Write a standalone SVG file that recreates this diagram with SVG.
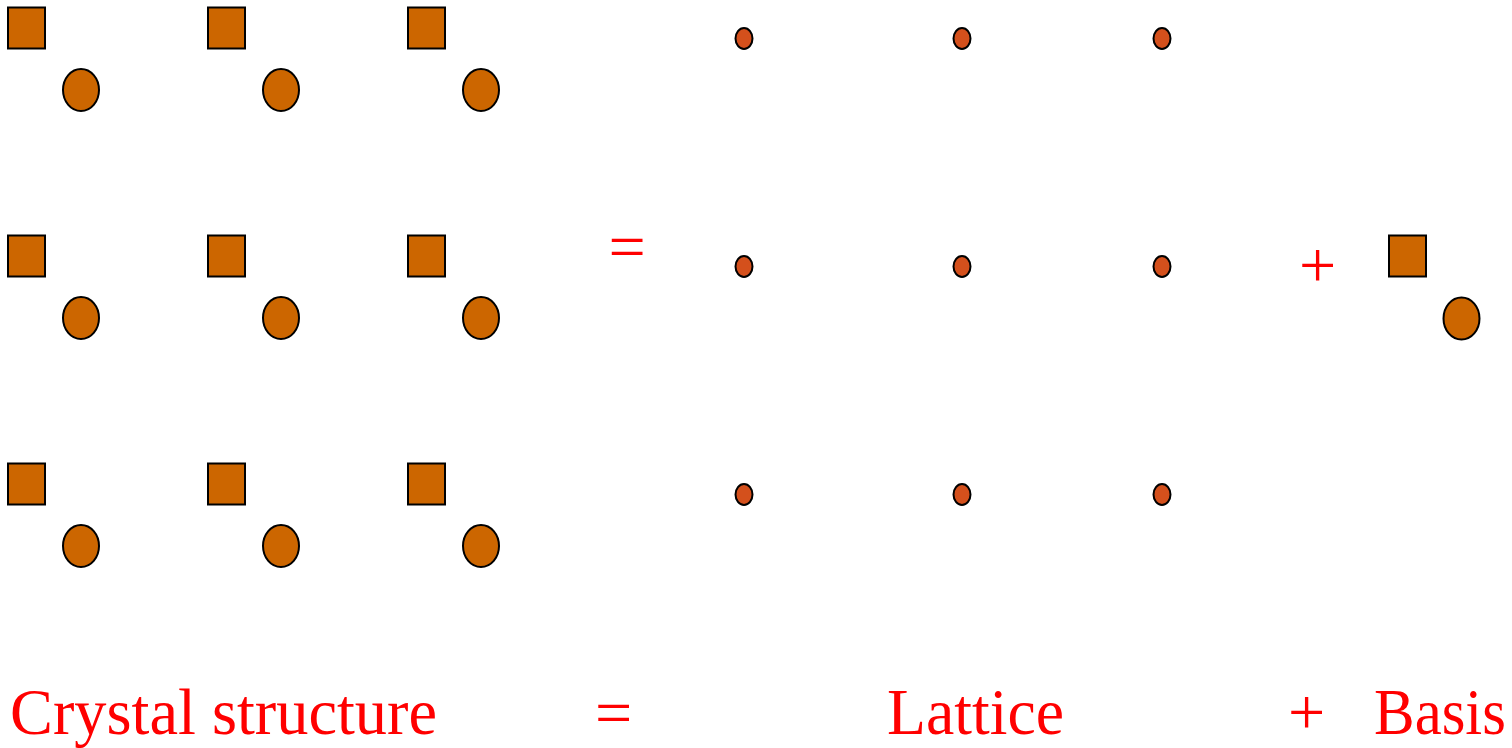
<svg xmlns="http://www.w3.org/2000/svg" width="1512" height="748" viewBox="0 0 1512 748">
<defs>
<style>
.sq{fill:#cc6600;stroke:#000;stroke-width:2}
.at{fill:#cc6600;stroke:#000;stroke-width:2}
.lp{fill:#d4501c;stroke:#000;stroke-width:2}
.t{font-family:'Liberation Serif','Times New Roman',serif;fill:#ff0000;font-size:66px}
</style>
<g id="basisUnit">
<rect class="sq" x="8" y="7.5" width="37" height="41"/>
<ellipse class="at" cx="81" cy="90" rx="18" ry="21"/>
</g>
</defs>
<g id="crystal">
<g id="c11"><use href="#basisUnit"/></g>
<g id="c12"><use href="#basisUnit" x="200"/></g>
<g id="c13"><use href="#basisUnit" x="400"/></g>
<g id="c21"><use href="#basisUnit" y="228"/></g>
<g id="c22"><use href="#basisUnit" x="200" y="228"/></g>
<g id="c23"><use href="#basisUnit" x="400" y="228"/></g>
<g id="c31"><use href="#basisUnit" y="456"/></g>
<g id="c32"><use href="#basisUnit" x="200" y="456"/></g>
<g id="c33"><use href="#basisUnit" x="400" y="456"/></g>
</g>
<g id="lattice">
<ellipse id="l11" class="lp" cx="744" cy="38.5" rx="8.5" ry="10.5"/>
<ellipse id="l12" class="lp" cx="962" cy="38.5" rx="8.5" ry="10.5"/>
<ellipse id="l13" class="lp" cx="1162" cy="38.5" rx="8.5" ry="10.5"/>
<ellipse id="l21" class="lp" cx="744" cy="266.5" rx="8.5" ry="10.5"/>
<ellipse id="l22" class="lp" cx="962" cy="266.5" rx="8.5" ry="10.5"/>
<ellipse id="l23" class="lp" cx="1162" cy="266.5" rx="8.5" ry="10.5"/>
<ellipse id="l31" class="lp" cx="744" cy="494.5" rx="8.5" ry="10.5"/>
<ellipse id="l32" class="lp" cx="962" cy="494.5" rx="8.5" ry="10.5"/>
<ellipse id="l33" class="lp" cx="1162" cy="494.5" rx="8.5" ry="10.5"/>
</g>
<g id="basis">
<rect class="sq" x="1389" y="235.5" width="37" height="41"/>
<ellipse class="at" cx="1461.5" cy="318.5" rx="18" ry="21"/>
</g>
<g id="connectors"></g>
<g id="symbols">
<text class="t" x="627" y="269" text-anchor="middle">=</text>
<text class="t" x="1317.5" y="286.5" text-anchor="middle">+</text>
</g>
<g id="labels">
<text class="t" x="10" y="734" textLength="427" lengthAdjust="spacingAndGlyphs">Crystal structure</text>
<text class="t" x="613.5" y="735" text-anchor="middle">=</text>
<text class="t" x="887" y="734" textLength="177" lengthAdjust="spacingAndGlyphs">Lattice</text>
<text class="t" x="1306.7" y="734" text-anchor="middle">+</text>
<text class="t" x="1374" y="734" textLength="132" lengthAdjust="spacingAndGlyphs">Basis</text>
</g>
</svg>
